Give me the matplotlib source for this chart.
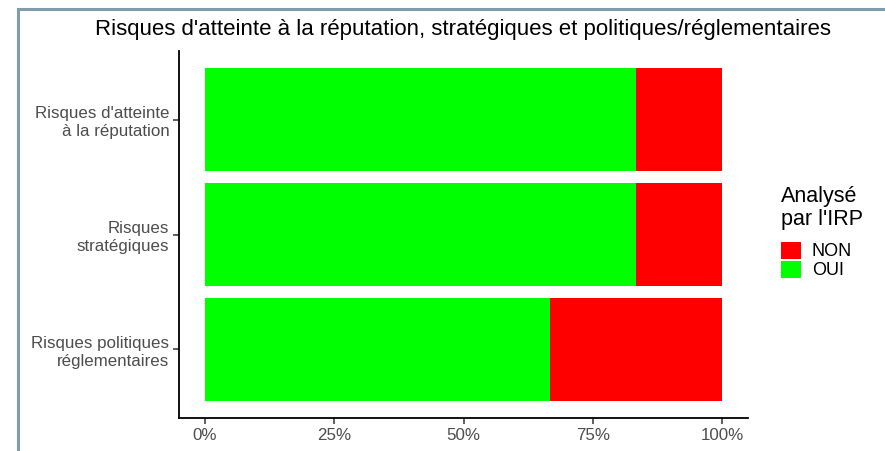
import matplotlib
matplotlib.use("Agg")
import matplotlib.pyplot as plt
from matplotlib.lines import Line2D
from matplotlib.patches import Patch
from matplotlib.ticker import PercentFormatter

plt.rcParams['font.family'] = ['Liberation Sans', 'DejaVu Sans']

# data (share of "OUI" / "NON" in percent)
CATEGORIES = ["Risques d'atteinte\nà la réputation",
              "Risques\nstratégiques",
              "Risques politiques\nréglementaires"]
OUI = [83.3, 83.3, 66.7]
NON = [16.7, 16.7, 33.3]
COLORS = {"OUI": "#00ff00", "NON": "#ff0000"}
TITLE = "Risques d'atteinte à la réputation, stratégiques et politiques/réglementaires"
LEGEND_TITLE = "Analysé\npar l'IRP"

W, H = 885, 451
fig = plt.figure(figsize=(W / 100, H / 100), dpi=100)

# axes placed in pixels: left 179, right 748, top 51, bottom 418
ax = fig.add_axes([179 / W, 1 - 418 / H, (748 - 179) / W, (418 - 51) / H])

# first category on top, like ggplot's flipped discrete axis
ypos = [len(CATEGORIES) - 1 - i for i in range(len(CATEGORIES))]
ax.barh(ypos, OUI, height=0.9, color=COLORS["OUI"], linewidth=0)
ax.barh(ypos, NON, left=OUI, height=0.9, color=COLORS["NON"], linewidth=0)

ax.set_xlim(-5, 105)
ax.set_ylim(-0.6, len(CATEGORIES) - 0.4)
ax.set_xticks([0, 25, 50, 75, 100])
ax.xaxis.set_major_formatter(PercentFormatter(decimals=0))
ax.set_yticks(ypos)
ax.set_yticklabels(CATEGORIES, ha="right", linespacing=1.25)

for side in ["top", "right"]:
    ax.spines[side].set_visible(False)
for side in ["left", "bottom"]:
    ax.spines[side].set_linewidth(1.3)
    ax.spines[side].set_color("black")
ax.tick_params(axis="both", colors="#333333", labelcolor="#4d4d4d",
               labelsize=12.2, length=4, width=1.1, pad=3)

fig.text(463 / W, 1 - 30 / H, TITLE, ha="center", va="center",
         fontsize=16, color="black")

handles = [Patch(facecolor=COLORS["NON"], label="NON"),
           Patch(facecolor=COLORS["OUI"], label="OUI")]
leg = fig.legend(handles=handles, title=LEGEND_TITLE, loc="upper left",
                 bbox_to_anchor=(781 / W, 1 - 186 / H), frameon=False,
                 borderpad=0, borderaxespad=0,
                 fontsize=13, title_fontsize=15.5, handlelength=1.1,
                 handleheight=1.1, handletextpad=0.6, labelspacing=0.02)
leg._legend_box.align = "left"
leg._legend_box.sep = 8
leg.get_title().set_linespacing(1.15)

# screenshot frame lines along the left and top edges
fig.add_artist(Line2D([18 / W, 18 / W], [0, 1 - 9 / H], color="#7f9cad",
                      linewidth=2.2, transform=fig.transFigure))
fig.add_artist(Line2D([18 / W, 1], [1 - 9 / H, 1 - 9 / H], color="#7f9cad",
                      linewidth=2.2, transform=fig.transFigure))

fig.savefig("out.png", dpi=100)
